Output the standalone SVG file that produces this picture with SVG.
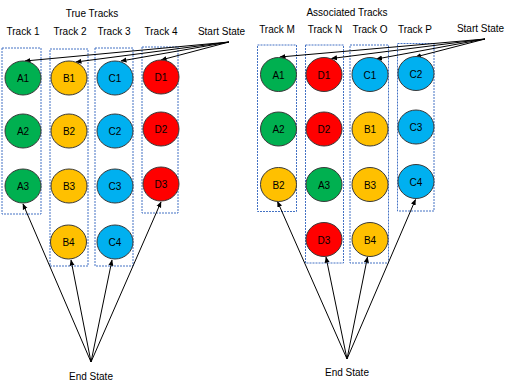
<svg xmlns="http://www.w3.org/2000/svg" width="512" height="388" viewBox="0 0 512 388">
<defs>
<style>
text{font-family:"Liberation Sans",Arial,sans-serif;font-size:10px;fill:#000;text-anchor:middle}
.box{fill:none;stroke:#4472C4;stroke-width:1;stroke-dasharray:2 1}
.n ellipse{stroke:#3a3a3a;stroke-width:1}
.g{fill:#00B050}.y{fill:#FFC000}.b{fill:#00B0F0}.r{fill:#FF0000}
.c line{stroke:#000;stroke-width:1;marker-end:url(#ah)}
</style>
<marker id="ah" viewBox="0 0 6 6" refX="5.5" refY="3" markerWidth="6" markerHeight="6" orient="auto" markerUnits="userSpaceOnUse">
<path d="M0,0.5 L6,3 L0,5.5 z" fill="#000"/>
</marker>
</defs>
<rect width="512" height="388" fill="#fff"/>
<g id="labels">
<text x="92" y="16.5">True Tracks</text>
<text x="23" y="35">Track 1</text>
<text x="70" y="35">Track 2</text>
<text x="114" y="35">Track 3</text>
<text x="161" y="35">Track 4</text>
<text x="221.5" y="35">Start State</text>
<text x="91" y="380">End State</text>
<text x="347" y="16">Associated Tracks</text>
<text x="277" y="32.5">Track M</text>
<text x="325" y="32.5">Track N</text>
<text x="370" y="32.5">Track O</text>
<text x="415" y="32.5">Track P</text>
<text x="480.5" y="32">Start State</text>
<text x="347" y="376">End State</text>
</g>
<g id="track-boxes">
<rect id="box-track1" class="box" x="2" y="48" width="39" height="166"/>
<rect id="box-track2" class="box" x="50" y="49" width="38" height="217"/>
<rect id="box-track3" class="box" x="95" y="48" width="38" height="218"/>
<rect id="box-track4" class="box" x="142" y="47" width="36" height="166"/>
<rect id="box-trackM" class="box" x="257.5" y="45" width="39" height="166.5"/>
<rect id="box-trackN" class="box" x="305.5" y="45" width="38" height="218"/>
<rect id="box-trackO" class="box" x="350" y="45" width="38.5" height="218"/>
<rect id="box-trackP" class="box" x="397.5" y="43.5" width="36.5" height="167.5"/>
</g>
<g id="connectors" class="c">
<line x1="229" y1="42" x2="25" y2="61"/>
<line x1="229" y1="42" x2="76" y2="62"/>
<line x1="229" y1="42" x2="121" y2="61"/>
<line x1="229" y1="42" x2="161" y2="60"/>
<line x1="91" y1="362" x2="23" y2="204"/>
<line x1="91" y1="362" x2="71" y2="260"/>
<line x1="91" y1="362" x2="112" y2="260"/>
<line x1="91" y1="362" x2="161" y2="202"/>
<line x1="485" y1="39" x2="280" y2="57"/>
<line x1="485" y1="39" x2="331.5" y2="58.5"/>
<line x1="485" y1="39" x2="376.5" y2="59"/>
<line x1="485" y1="39" x2="415.5" y2="57"/>
<line x1="347" y1="359" x2="277.5" y2="201.5"/>
<line x1="347" y1="359" x2="326" y2="257"/>
<line x1="347" y1="359" x2="367.5" y2="257"/>
<line x1="347" y1="359" x2="415.5" y2="199.5"/>
</g>
<g id="A1" class="n"><ellipse class="g" cx="23" cy="78" rx="18" ry="17"/><text x="23" y="82">A1</text></g>
<g id="A2" class="n"><ellipse class="g" cx="23" cy="131" rx="18" ry="17"/><text x="23" y="135">A2</text></g>
<g id="A3" class="n"><ellipse class="g" cx="23" cy="186" rx="18" ry="17"/><text x="23" y="190">A3</text></g>
<g id="B1" class="n"><ellipse class="y" cx="69" cy="78" rx="18" ry="17"/><text x="69" y="82">B1</text></g>
<g id="B2" class="n"><ellipse class="y" cx="69" cy="131" rx="18" ry="17"/><text x="69" y="135">B2</text></g>
<g id="B3" class="n"><ellipse class="y" cx="69" cy="186" rx="18" ry="17"/><text x="69" y="190">B3</text></g>
<g id="B4" class="n"><ellipse class="y" cx="68.5" cy="242" rx="18" ry="17"/><text x="68.5" y="246">B4</text></g>
<g id="C1" class="n"><ellipse class="b" cx="115" cy="78" rx="18" ry="17"/><text x="115" y="82">C1</text></g>
<g id="C2" class="n"><ellipse class="b" cx="115" cy="131" rx="18" ry="17"/><text x="115" y="135">C2</text></g>
<g id="C3" class="n"><ellipse class="b" cx="115" cy="186" rx="18" ry="17"/><text x="115" y="190">C3</text></g>
<g id="C4" class="n"><ellipse class="b" cx="115" cy="242" rx="18" ry="17"/><text x="115" y="246">C4</text></g>
<g id="D1" class="n"><ellipse class="r" cx="161" cy="77" rx="18" ry="17"/><text x="161" y="81">D1</text></g>
<g id="D2" class="n"><ellipse class="r" cx="161" cy="129" rx="18" ry="17"/><text x="161" y="133">D2</text></g>
<g id="D3" class="n"><ellipse class="r" cx="161" cy="184" rx="18" ry="17"/><text x="161" y="188">D3</text></g>
<g id="M-A1" class="n"><ellipse class="g" cx="278.5" cy="74.5" rx="18" ry="17"/><text x="278.5" y="78.5">A1</text></g>
<g id="M-A2" class="n"><ellipse class="g" cx="278.5" cy="129" rx="18" ry="17"/><text x="278.5" y="133">A2</text></g>
<g id="M-B2" class="n"><ellipse class="y" cx="278.5" cy="184.5" rx="18" ry="17"/><text x="278.5" y="188.5">B2</text></g>
<g id="N-D1" class="n"><ellipse class="r" cx="324" cy="74.5" rx="18" ry="17"/><text x="324" y="78.5">D1</text></g>
<g id="N-D2" class="n"><ellipse class="r" cx="324" cy="129" rx="18" ry="17"/><text x="324" y="133">D2</text></g>
<g id="N-A3" class="n"><ellipse class="g" cx="324" cy="184.5" rx="18" ry="17"/><text x="324" y="188.5">A3</text></g>
<g id="N-D3" class="n"><ellipse class="r" cx="324" cy="239.5" rx="18" ry="17"/><text x="324" y="243.5">D3</text></g>
<g id="O-C1" class="n"><ellipse class="b" cx="370" cy="74.5" rx="18" ry="17"/><text x="370" y="78.5">C1</text></g>
<g id="O-B1" class="n"><ellipse class="y" cx="370" cy="129" rx="18" ry="17"/><text x="370" y="133">B1</text></g>
<g id="O-B3" class="n"><ellipse class="y" cx="370" cy="184.5" rx="18" ry="17"/><text x="370" y="188.5">B3</text></g>
<g id="O-B4" class="n"><ellipse class="y" cx="370" cy="239.5" rx="18" ry="17"/><text x="370" y="243.5">B4</text></g>
<g id="P-C2" class="n"><ellipse class="b" cx="416" cy="73.5" rx="18" ry="17"/><text x="416" y="77.5">C2</text></g>
<g id="P-C3" class="n"><ellipse class="b" cx="416" cy="127" rx="18" ry="17"/><text x="416" y="131">C3</text></g>
<g id="P-C4" class="n"><ellipse class="b" cx="416" cy="181.5" rx="18" ry="17"/><text x="416" y="185.5">C4</text></g>
</svg>
